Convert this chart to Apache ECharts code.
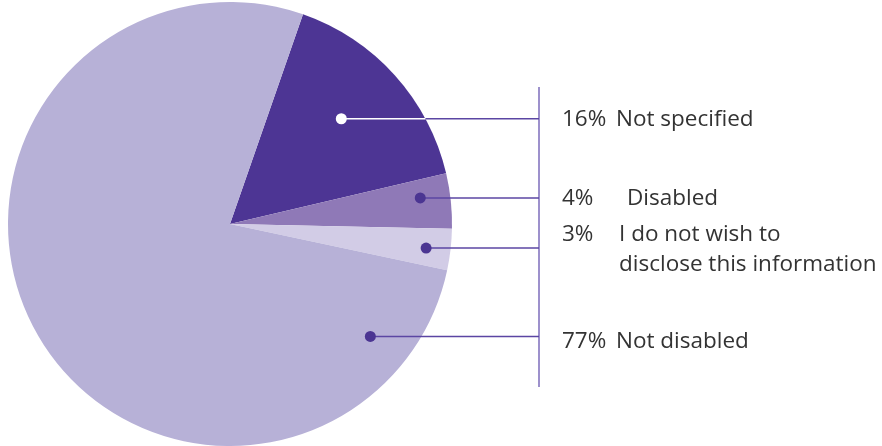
<!DOCTYPE html>
<html>
<head>
<meta charset="utf-8">
<script src="https://cdn.jsdelivr.net/npm/echarts@6/dist/echarts.min.js"></script>
<style>
  html, body { margin: 0; padding: 0; background: #fff; }
  #chart { width: 882px; height: 446px; }
</style>
</head>
<body>
<div id="chart"></div>
<script>
// Survey answers, in clockwise order from the top
const categories = ['Not specified', 'Disabled', 'I do not wish to\ndisclose this information', 'Not disabled'];
const values = [16, 4, 3, 77];
const sliceColors = ['#4d3594', '#8f79b7', '#d2cce6', '#b7b1d7'];

// Pie geometry
const CX = 230, CY = 224, R = 222, START = 70.8;

// Callout layout: angle (deg, counter-clockwise from 3 o'clock) and radius fraction of each dot,
// the centre y of each label's first line and the x where each name begins
const dotAngle = [43.4, 7.8, -7.0, -38.7];
const dotRadius = [0.69, 0.865, 0.89, 0.81];
const textY = [120, 199, 235, 342];
const nameX = [616, 627, 619, 616];
const BAR_X = 539, BAR_TOP = 87, BAR_BOTTOM = 387, PCT_X = 562, LINE_H = 30;
const FONT = '22.5px "Open Sans", sans-serif';

const chart = echarts.init(document.getElementById('chart'), null, { renderer: 'canvas' });

const graphics = [];
graphics.push({
  type: 'line', silent: true,
  shape: { x1: BAR_X, y1: BAR_TOP, x2: BAR_X, y2: BAR_BOTTOM },
  style: { stroke: '#7d6cbb', lineWidth: 1.5 }
});

categories.forEach((name, i) => {
  const a = dotAngle[i] * Math.PI / 180;
  const dx = CX + R * dotRadius[i] * Math.cos(a);
  const dy = CY - R * dotRadius[i] * Math.sin(a);
  const onDark = i === 0;
  // leader from the dot to the bar
  graphics.push({
    type: 'line', silent: true, z: 10,
    shape: { x1: dx, y1: dy, x2: BAR_X, y2: dy },
    style: { stroke: '#5b46a3', lineWidth: 1.5 }
  });
  if (onDark) {
    // inside the dark slice the leader is white, up to the pie edge
    const edgeX = CX + Math.sqrt(R * R - (dy - CY) * (dy - CY));
    graphics.push({
      type: 'line', silent: true, z: 11,
      shape: { x1: dx, y1: dy, x2: edgeX, y2: dy },
      style: { stroke: '#ffffff', lineWidth: 1.5 }
    });
  }
  graphics.push({
    type: 'circle', silent: true, z: 12,
    shape: { cx: dx, cy: dy, r: 5.5 },
    style: { fill: onDark ? '#ffffff' : '#4b3592' }
  });
  graphics.push({
    type: 'text', silent: true, z: 12,
    x: PCT_X, y: textY[i],
    style: {
      text: values[i] + '%',
      fill: '#333333', font: FONT,
      verticalAlign: 'middle', align: 'left'
    }
  });
  graphics.push({
    type: 'text', silent: true, z: 12,
    x: nameX[i], y: textY[i] - LINE_H / 2,
    style: {
      text: name,
      fill: '#333333', font: FONT,
      lineHeight: LINE_H,
      verticalAlign: 'top', align: 'left'
    }
  });
});

chart.setOption({
  animation: false,
  backgroundColor: '#ffffff',
  series: [{
    type: 'pie',
    center: [CX, CY],
    radius: [0, R],
    startAngle: START,
    clockwise: true,
    label: { show: false },
    labelLine: { show: false },
    itemStyle: { borderWidth: 0 },
    emphasis: { disabled: true },
    data: categories.map((n, i) => ({ name: n, value: values[i], itemStyle: { color: sliceColors[i] } }))
  }],
  graphic: graphics
});
</script>
</body>
</html>
